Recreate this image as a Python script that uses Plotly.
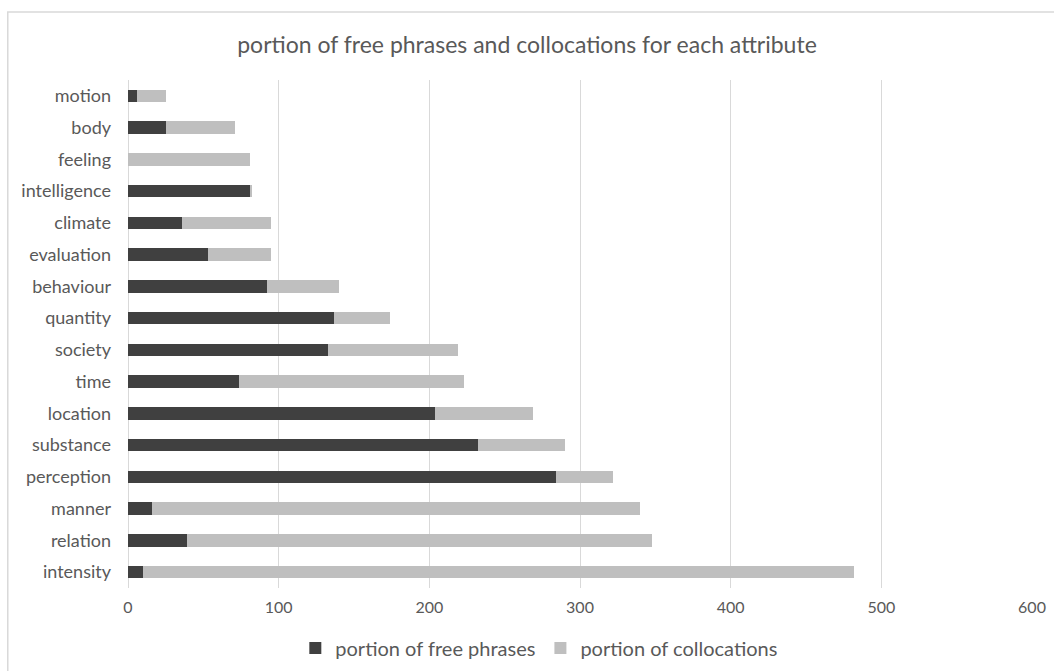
import plotly.graph_objects as go

attributes = ["motion", "body", "feeling", "intelligence", "climate", "evaluation",
              "behaviour", "quantity", "society", "time", "location", "substance",
              "perception", "manner", "relation", "intensity"]
free_phrases = [6, 25, 0, 81, 36, 53, 92, 137, 133, 74, 204, 232, 284, 16, 39, 10]
collocations = [19, 46, 81, 1, 59, 42, 48, 37, 86, 149, 65, 58, 38, 324, 309, 472]
x_ticks = [0, 100, 200, 300, 400, 500, 600]

FONT = "Lato"
TEXT = "#595959"

fig = go.Figure()
fig.add_trace(go.Bar(y=attributes, x=free_phrases, orientation="h",
                     name="portion of free phrases", marker_color="#404040",
                     marker_line_width=0))
fig.add_trace(go.Bar(y=attributes, x=collocations, orientation="h",
                     name="portion of collocations", marker_color="#bfbfbf",
                     marker_line_width=0))

fig.update_layout(
    width=1054, height=671,
    barmode="stack", bargap=0.6,
    paper_bgcolor="white", plot_bgcolor="white",
    margin=dict(l=128, r=22, t=80, b=83, autoexpand=False),
    font=dict(family=FONT, color=TEXT, size=17),
    title=dict(text="portion of free phrases and collocations for each attribute",
               x=0.5, xanchor="center", y=0.933, yanchor="middle",
               font=dict(size=23, color=TEXT, family=FONT)),
    legend=dict(orientation="h", x=0.455, xanchor="center", y=-0.118,
                yanchor="middle", font=dict(size=20, color=TEXT),
                traceorder="normal", itemwidth=30),
    xaxis=dict(range=[0, 600], tickvals=x_ticks, showgrid=True,
               gridcolor="#d9d9d9", gridwidth=1, zeroline=True,
               zerolinecolor="#d9d9d9", zerolinewidth=1, showline=False,
               automargin=False,
               ticks="", ticklabelstandoff=8, tickfont=dict(size=16, color=TEXT)),
    yaxis=dict(autorange="reversed", showgrid=False, showline=False,
               automargin=False,
               ticks="", ticklabelstandoff=16, tickfont=dict(size=18, color=TEXT)),
    shapes=[dict(type="rect", xref="paper", yref="paper",
                 x0=-0.133, x1=1.04, y0=-0.2, y1=1.134,
                 line=dict(color="#d9d9d9", width=1.5), fillcolor="rgba(0,0,0,0)",
                 layer="below")],
)

fig.write_html("out.html")
